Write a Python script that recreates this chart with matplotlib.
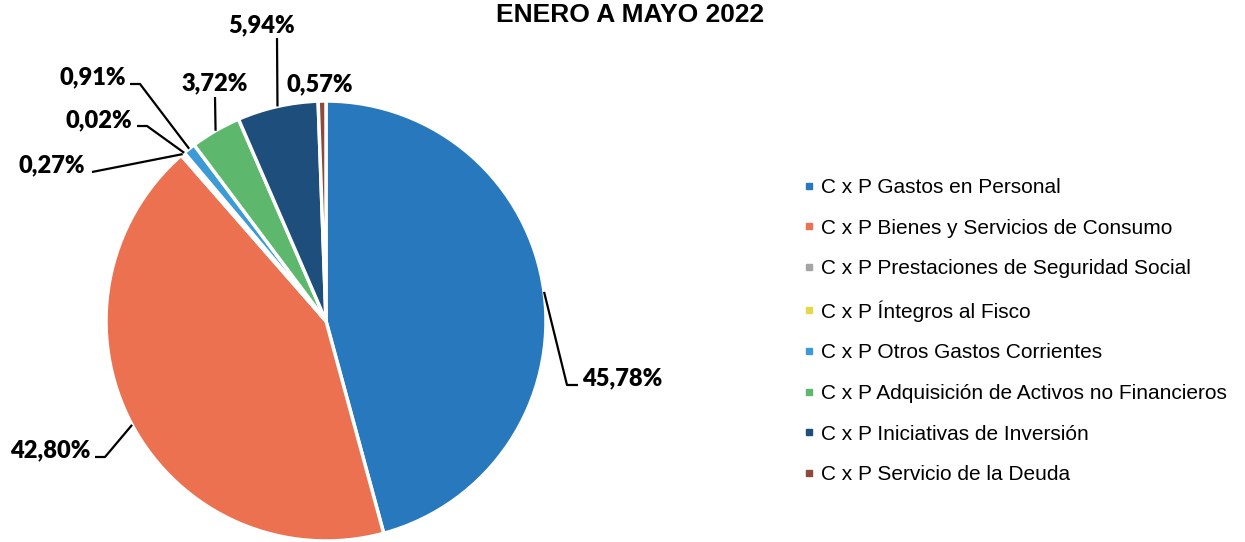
import matplotlib.pyplot as plt
from matplotlib.lines import Line2D
import numpy as np

# Data
categories = [
    "C x P Gastos en Personal",
    "C x P Bienes y Servicios de Consumo",
    "C x P Prestaciones de Seguridad Social",
    "C x P Íntegros al Fisco",
    "C x P Otros Gastos Corrientes",
    "C x P Adquisición de Activos no Financieros",
    "C x P Iniciativas de Inversión",
    "C x P Servicio de la Deuda",
]
percentages = [45.78, 42.80, 0.27, 0.02, 0.91, 3.72, 5.94, 0.57]
pct_labels = ["45,78%", "42,80%", "0,27%", "0,02%", "0,91%", "3,72%", "5,94%", "0,57%"]
colors = ["#2878BE", "#EB7150", "#A5A5A5", "#E6D84A", "#3C9AD6", "#5DB86E", "#1D4E7C", "#8C4B3C"]

W, H = 1245, 542
fig = plt.figure(figsize=(W / 100, H / 100), dpi=100)
ax = fig.add_axes([0, 0, 1, 1])


def px(x, y):
    # image pixel coords (y down) -> data coords (y up)
    return x, H - y


cx, cy = px(326, 321)
radius = 220

wedges, _ = ax.pie(percentages, colors=colors, startangle=90, counterclock=False,
                   center=(cx, cy), radius=radius, frame=True,
                   wedgeprops=dict(edgecolor="white", linewidth=2.5))
ax.set_xlim(0, W)
ax.set_ylim(0, H)
ax.set_aspect("equal")
ax.axis("off")

# label layout: text position, alignment, leader elbow points (image px)
layout = [
    ((582, 385), "left", [(567, 385), (578, 385)]),
    ((90, 457), "right", [(105, 457), (95, 457)]),
    ((85, 172), "right", [(92, 172)]),
    ((132, 127), "right", [(147, 126), (137, 126)]),
    ((126, 84), "right", [(140, 84), (130, 84)]),
    ((215, 90), "center", [(215, 97)]),
    ((262, 32), "center", [(277, 38)]),
    ((320, 91), "center", []),
]

for w, lab, (tpos, ha, elbows) in zip(wedges, pct_labels, layout):
    mid = np.deg2rad((w.theta1 + w.theta2) / 2)
    ax_x = cx + radius * np.cos(mid)
    ax_y = cy + radius * np.sin(mid)
    if elbows:
        xs = [ax_x] + [e[0] for e in elbows]
        ys = [ax_y] + [H - e[1] for e in elbows]
        ax.plot(xs, ys, color="black", linewidth=1.6, solid_capstyle="butt")
    tx, ty = px(*tpos)
    ax.text(tx, ty, lab, ha=ha, va="baseline", fontsize=17,
            fontweight="heavy", family="Lato")

# Title
ax.text(630, H - 22, "ENERO A MAYO 2022", ha="center", va="baseline",
        fontsize=19, fontweight="bold", family="Liberation Sans")

# Legend
handles = [Line2D([], [], linestyle="none", marker="s", markersize=4,
                  markerfacecolor=c, markeredgecolor=c) for c in colors]
fig.legend(handles, categories, loc="upper left",
           bbox_to_anchor=(803 / W, 1 - 178 / H), frameon=False,
           prop=dict(family="Liberation Sans", size=15),
           handlelength=0.6, handletextpad=0.25, labelspacing=1.04,
           borderpad=0, borderaxespad=0)

fig.savefig("out.png", dpi=100)
